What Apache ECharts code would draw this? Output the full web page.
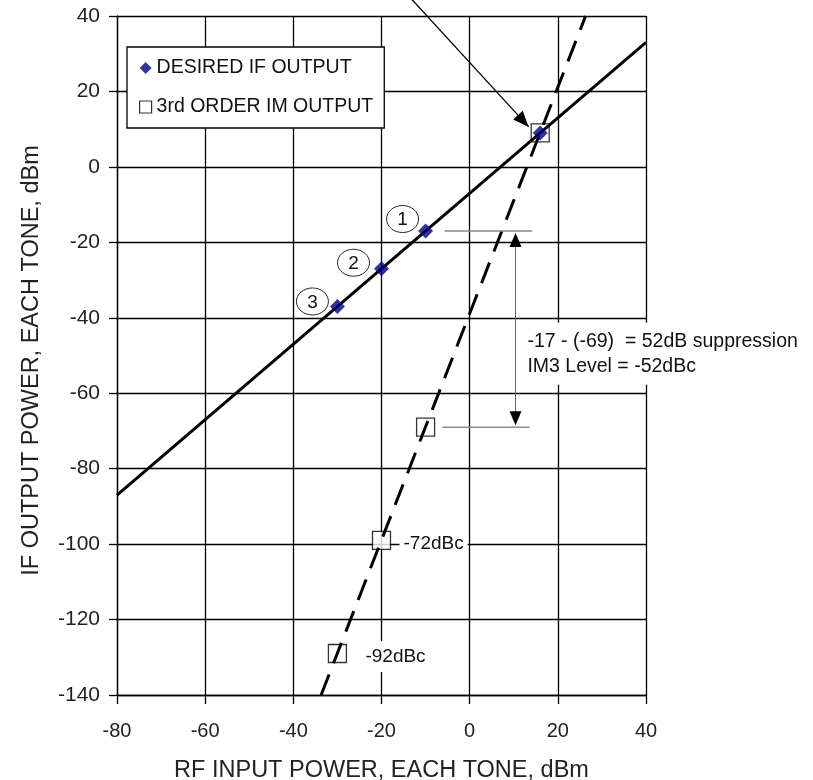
<!DOCTYPE html>
<html>
<head>
<meta charset="utf-8">
<script src="https://cdn.jsdelivr.net/npm/echarts@6/dist/echarts.min.js"></script>
<style>
  html, body { margin: 0; padding: 0; background: #fff; }
  #chart { width: 813px; height: 780px; }
</style>
</head>
<body>
<div id="chart"></div>
<script>
// axis ranges
const xMin = -80, xMax = 40, xStep = 20
const yMin = -140, yMax = 40, yStep = 20

// measured points
const ifX = [-30, -20, -10, 16]
const ifY = [-37, -27, -17, 9]
const imX = [-30, -20, -10, 16]
const imY = [-129, -99, -69, 9]

// fitted lines (end points)
const ifLineX = [-80, 40]
const ifLineY = [-87, 33]
const imLineX = [-33.7, 26.3]
const imLineY = [-140, 40]

// annotation values
const bracketLevels = [-17, -69]
const pointTags = ['1', '2', '3']
const dbcTags = ['-72dBc', '-92dBc']

const FONT = '"Liberation Sans", Arial, sans-serif'
const pair = (xs, ys) => xs.map((x, i) => [x, ys[i]])

const chart = echarts.init(document.getElementById('chart'), null, { renderer: 'canvas' })

chart.setOption({
  animation: false,
  backgroundColor: '#fff',
  textStyle: { fontFamily: FONT },
  grid: { left: 117, top: 16, right: 167, bottom: 85, containLabel: false, outerBoundsMode: 'none' },
  legend: {
    orient: 'vertical',
    left: 127, top: 47,
    padding: [11, 11, 11, 12],
    itemGap: 19,
    itemWidth: 12, itemHeight: 12,
    backgroundColor: '#fff',
    borderColor: '#000', borderWidth: 1.3, borderRadius: 0,
    textStyle: { fontSize: 19.5, color: '#111', fontFamily: FONT, lineHeight: 20 },
    data: [
      { name: 'DESIRED IF OUTPUT', icon: 'diamond', itemStyle: { color: '#000080' } },
      { name: '3rd ORDER IM OUTPUT', icon: 'rect', itemStyle: { color: '#fff', borderColor: '#000', borderWidth: 1.2 } }
    ],
    z: 10
  },
  xAxis: {
    type: 'value', min: xMin, max: xMax, interval: xStep,
    name: 'RF INPUT POWER, EACH TONE, dBm',
    nameLocation: 'middle', nameGap: 64,
    nameTextStyle: { fontSize: 23.5, color: '#222', fontFamily: FONT },
    axisLine: { onZero: false, lineStyle: { color: '#000', width: 1.3 } },
    axisTick: { length: 9, lineStyle: { color: '#000', width: 1.3 } },
    axisLabel: { fontSize: 20, color: '#222', margin: 26, fontFamily: FONT },
    splitLine: { lineStyle: { color: '#000', width: 1.3 } }
  },
  yAxis: {
    type: 'value', min: yMin, max: yMax, interval: yStep,
    name: 'IF OUTPUT POWER, EACH TONE, dBm',
    nameLocation: 'middle', nameGap: 73, nameRotate: 90,
    nameTextStyle: { fontSize: 23.5, color: '#222', fontFamily: FONT, padding: [0, 10, 0, 0] },
    axisLine: { onZero: false, lineStyle: { color: '#000', width: 1.3 } },
    axisTick: { length: 8, lineStyle: { color: '#000', width: 1.3 } },
    axisLabel: { fontSize: 21, color: '#222', margin: 17, fontFamily: FONT },
    splitLine: { lineStyle: { color: '#000', width: 1.3 } }
  },
  series: [
    {
      name: '3rd ORDER IM OUTPUT', type: 'scatter', z: 2,
      symbol: 'rect', symbolSize: 18,
      itemStyle: { color: '#fff', borderColor: '#000', borderWidth: 1.3 },
      data: pair(imX, imY)
    },
    {
      name: 'ifLine', type: 'line', z: 3, symbol: 'none', silent: true,
      lineStyle: { color: '#000', width: 3 },
      data: pair(ifLineX, ifLineY)
    },
    {
      name: 'imLine', type: 'line', z: 3, symbol: 'none', silent: true,
      lineStyle: { color: '#000', width: 3, type: [22, 12] },
      data: pair(imLineX, imLineY)
    },
    {
      name: 'DESIRED IF OUTPUT', type: 'scatter', z: 4,
      symbol: 'diamond', symbolSize: 15,
      itemStyle: { color: '#000080' },
      data: pair(ifX, ifY)
    }
  ]
})

// ---- annotations ----
function px(x, y) { return chart.convertToPixel({ gridIndex: 0 }, [x, y]) }

function arrowHead(tip, from, len, half) {
  const dx = tip[0] - from[0], dy = tip[1] - from[1]
  const d = Math.hypot(dx, dy)
  const ux = dx / d, uy = dy / d
  const bx = tip[0] - ux * len, by = tip[1] - uy * len
  return {
    type: 'polygon', z: 100,
    shape: { points: [tip, [bx - uy * half, by + ux * half], [bx + uy * half, by - ux * half]] },
    style: { fill: '#000' }
  }
}

const g = []

// long pointer to the intercept point
const aFrom = px(-13.2, 44.5), aTip = px(13.4, 10.6)
g.push({ type: 'line', z: 100, shape: { x1: aFrom[0], y1: aFrom[1], x2: aTip[0], y2: aTip[1] }, style: { stroke: '#000', lineWidth: 1.3 } })
g.push(arrowHead(aTip, aFrom, 16, 6.5))

// bracket lines at -17 and -69
const bracketX = [[-5.7, 14.2], [-6.2, 13.6]]
bracketLevels.forEach((lv, i) => {
  const a = px(bracketX[i][0], lv), b = px(bracketX[i][1], lv)
  g.push({ type: 'line', z: 99, shape: { x1: a[0], y1: a[1], x2: b[0], y2: b[1] }, style: { stroke: '#8a8a8a', lineWidth: 1.5 } })
})

// double arrow
const dTop = px(10.4, bracketLevels[0]), dBot = px(10.4, bracketLevels[1])
dTop[1] += 2; dBot[1] -= 2
g.push({ type: 'line', z: 100, shape: { x1: dTop[0], y1: dTop[1] + 10, x2: dBot[0], y2: dBot[1] - 10 }, style: { stroke: '#666', lineWidth: 1 } })
g.push(arrowHead(dTop, [dTop[0], dTop[1] + 20], 14, 6))
g.push(arrowHead(dBot, [dBot[0], dBot[1] - 20], 14, 6))

// numbered circles next to the measured points (listed top-down: 1,2,3)
const tagOffsets = [[-23, -12], [-28, -6], [-25, -5]]
pointTags.forEach((t, i) => {
  const j = ifX.length - 2 - i
  const p = px(ifX[j], ifY[j])
  const cx = p[0] + tagOffsets[i][0], cy = p[1] + tagOffsets[i][1]
  g.push({ type: 'ellipse', z: 100, shape: { cx, cy, rx: 16, ry: 13.5 }, style: { fill: '#fff', stroke: '#222', lineWidth: 1 } })
  g.push({ type: 'text', z: 101, x: cx, y: cy + 1, style: { text: t, font: '19px ' + FONT, fill: '#111', align: 'center', verticalAlign: 'middle' } })
})

// dBc labels next to the IM squares
const dbcOffsets = [[18, 3], [24, 3]]
dbcTags.forEach((t, i) => {
  const q = px(imX[1 - i], imY[1 - i])
  g.push({
    type: 'text', z: 100, x: q[0] + dbcOffsets[i][0], y: q[1] + dbcOffsets[i][1],
    style: { text: t, font: '19px ' + FONT, fill: '#111', align: 'left', verticalAlign: 'middle', backgroundColor: '#fff', padding: [6, 4, 6, 4] }
  })
})

// suppression note
const np = px(13.1, -49)
g.push({
  type: 'text', z: 100, x: np[0] - 6, y: np[1] + 2,
  style: {
    text: '-17 - (-69)  = 52dB suppression\nIM3 Level = -52dBc',
    font: '19.5px ' + FONT, fill: '#111', lineHeight: 25,
    align: 'left', verticalAlign: 'middle',
    backgroundColor: '#fff', padding: [6, 6, 6, 6]
  }
})

chart.setOption({ graphic: g })
</script>
</body>
</html>
